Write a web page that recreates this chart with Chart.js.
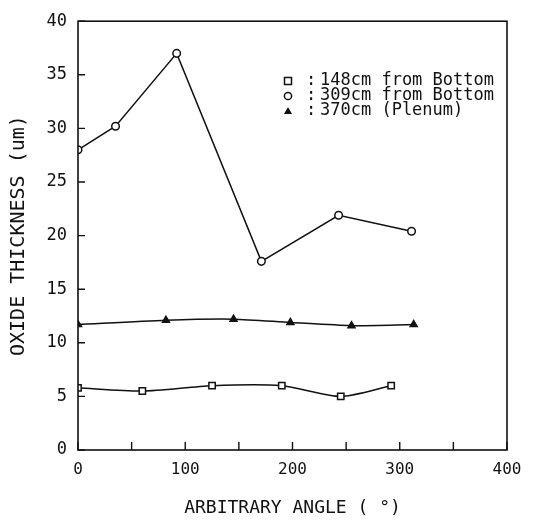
<!DOCTYPE html>
<html>
<head>
<meta charset="utf-8">
<script src="https://cdn.jsdelivr.net/npm/chart.js@4.4.0/dist/chart.umd.min.js"></script>
<style>
  body { margin: 0; background: #fff; }
  #wrap { width: 548px; height: 525px; }
</style>
</head>
<body>
<div id="wrap"><canvas id="c" width="548" height="525"></canvas></div>
<script>
// angle (deg) / oxide thickness (um) per axial position
const angle148 = [0, 60, 125, 190, 245, 292];
const thick148 = [5.8, 5.5, 6.0, 6.0, 5.0, 6.0];
const angle309 = [0, 35, 92, 171, 243, 311];
const thick309 = [28.0, 30.2, 37.0, 17.6, 21.9, 20.4];
const angle370 = [0, 82, 145, 198, 255, 313];
const thick370 = [11.7, 12.1, 12.2, 11.9, 11.6, 11.7];

const seriesNames = ['148cm from Bottom', '309cm from Bottom', '370cm (Plenum)'];

const ink = '#111';
const mono = '"DejaVu Sans Mono", monospace';

function pts(xs, ys) {
    return xs.map((x, i) => ({ x: x, y: ys[i] }));
}

function drawMarker(ctx, style, x, y) {
    ctx.save();
    ctx.strokeStyle = ink;
    ctx.fillStyle = '#fff';
    ctx.lineWidth = 1.5;
    ctx.beginPath();
    if (style === 'rect') {
        ctx.rect(x - 3.5, y - 3.5, 7, 7);
        ctx.fill(); ctx.stroke();
    } else if (style === 'circle') {
        ctx.arc(x, y, 3.6, 0, Math.PI * 2);
        ctx.fill(); ctx.stroke();
    } else {
        ctx.fillStyle = ink;
        ctx.moveTo(x, y - 4);
        ctx.lineTo(x + 4, y + 3);
        ctx.lineTo(x - 4, y + 3);
        ctx.closePath();
        ctx.fill();
    }
    ctx.restore();
}

// frame box, inward tick marks and the in-plot key
const frame = {
    id: 'frame',
    afterDraw(chart) {
        const ctx = chart.ctx;
        const a = chart.chartArea;
        const xs = chart.scales.x, ys = chart.scales.y;
        ctx.save();
        ctx.strokeStyle = ink;
        ctx.lineWidth = 1.6;
        ctx.strokeRect(a.left, a.top, a.right - a.left, a.bottom - a.top);
        ctx.lineWidth = 1.4;
        ctx.beginPath();
        xs.ticks.forEach(t => {
            const px = xs.getPixelForValue(t.value);
            ctx.moveTo(px, a.bottom);
            ctx.lineTo(px, a.bottom - 8);
        });
        ys.ticks.forEach(t => {
            const py = ys.getPixelForValue(t.value);
            ctx.moveTo(a.left, py);
            ctx.lineTo(a.left + 7, py);
        });
        ctx.stroke();

        const styles = ['rect', 'circle', 'triangle'];
        ctx.fillStyle = ink;
        ctx.font = '17px ' + mono;
        ctx.textBaseline = 'middle';
        styles.forEach((s, i) => {
            const y = 81 + i * 15;
            drawMarker(ctx, s, 288, y);
            ctx.fillText(':', 306, y);
            ctx.fillText(seriesNames[i], 320, y);
        });
        ctx.restore();
    }
};

const lineDefaults = {
    showLine: true,
    borderColor: ink,
    borderWidth: 1.5,
    pointBorderColor: ink,
    pointBorderWidth: 1.5,
    pointBackgroundColor: '#fff'
};

new Chart(document.getElementById('c'), {
    type: 'scatter',
    data: {
        datasets: [
            Object.assign({}, lineDefaults, {
                label: seriesNames[0],
                data: pts(angle148, thick148),
                pointStyle: 'rect',
                pointRadius: 4.5,
                tension: 0.25
            }),
            Object.assign({}, lineDefaults, {
                label: seriesNames[1],
                data: pts(angle309, thick309),
                pointStyle: 'circle',
                pointRadius: 3.8,
                tension: 0
            }),
            Object.assign({}, lineDefaults, {
                label: seriesNames[2],
                data: pts(angle370, thick370),
                pointStyle: 'triangle',
                pointRadius: 4,
                pointBackgroundColor: ink,
                tension: 0.25
            })
        ]
    },
    options: {
        responsive: false,
        animation: false,
        layout: { padding: { left: 0, right: 41, top: 15, bottom: 0 } },
        plugins: {
            legend: { display: false },
            tooltip: { enabled: false }
        },
        scales: {
            x: {
                type: 'linear',
                min: 0,
                max: 400,
                grid: { display: false, drawTicks: false },
                border: { display: false },
                ticks: {
                    stepSize: 50,
                    padding: 10,
                    color: ink,
                    font: { family: mono, size: 16 },
                    maxRotation: 0,
                    callback: v => (v % 100 === 0 ? v : '')
                },
                title: {
                    display: true,
                    text: 'ARBITRARY ANGLE ( °)',
                    color: ink,
                    font: { family: mono, size: 18 },
                    padding: { top: 0, bottom: 6 }
                },
                afterFit: s => { s.height = 75; }
            },
            y: {
                min: 0,
                max: 40,
                grid: { display: false, drawTicks: false },
                border: { display: false },
                ticks: {
                    stepSize: 5,
                    padding: 11,
                    color: ink,
                    font: { family: mono, size: 17 }
                },
                title: {
                    display: true,
                    text: 'OXIDE THICKNESS (um)',
                    color: ink,
                    font: { family: mono, size: 20 },
                    padding: { top: 7, bottom: 0 }
                },
                afterFit: s => { s.width = 78; }
            }
        }
    },
    plugins: [frame]
});
</script>
</body>
</html>
